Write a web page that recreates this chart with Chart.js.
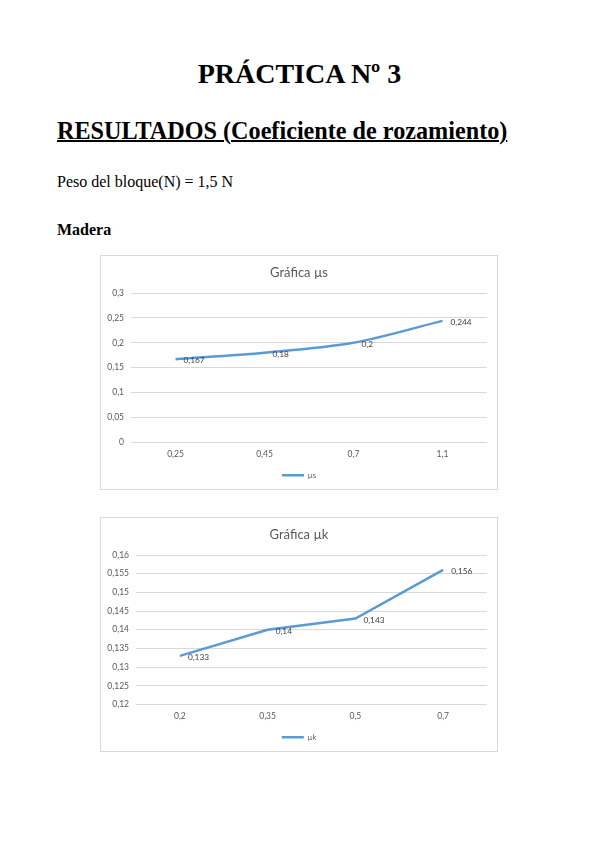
<!DOCTYPE html>
<html>
<head>
<meta charset="utf-8">
<script src="https://cdn.jsdelivr.net/npm/chart.js@4.4.0/dist/chart.umd.min.js"></script>
<style>
  html, body { margin:0; padding:0; background:#fff; }
  body { width:599px; height:848px; position:relative; overflow:hidden; font-family:"Liberation Serif", "Times New Roman", serif; color:#000; }
  .t { position:absolute; white-space:nowrap; line-height:1; }
  #h1 { top:60px; left:0; width:599px; text-align:center; font-size:28px; font-weight:bold; }
  #h2 { top:119px; left:57px; font-size:24.2px; font-weight:bold; text-decoration:underline; text-decoration-thickness:2px; }
  #p1 { top:174px; left:57px; font-size:16px; }
  #p2 { top:222px; left:57px; font-size:16px; font-weight:bold; }
  .box { position:absolute; left:100px; width:398px; height:235px; box-sizing:border-box; border:1px solid #d9d9d9; background:#fff; }
  .box canvas { display:block; }
</style>
</head>
<body>
<div class="t" id="h1">PRÁCTICA Nº 3</div>
<div class="t" id="h2">RESULTADOS (Coeficiente de rozamiento)</div>
<div class="t" id="p1">Peso del bloque(N) = 1,5 N</div>
<div class="t" id="p2">Madera</div>
<div class="box" style="top:255px"><canvas id="c1" width="396" height="233"></canvas></div>
<div class="box" style="top:517px"><canvas id="c2" width="396" height="233"></canvas></div>
<script>
// ---- data ----
const chart1Title = "Gráfica µs";
const chart1Series = "µs";
const chart1Categories = ["0,25", "0,45", "0,7", "1,1"];
const chart1Values = [0.167, 0.18, 0.2, 0.244];
const chart1YMin = 0, chart1YMax = 0.3, chart1YStep = 0.05;

const chart2Title = "Gráfica µk";
const chart2Series = "µk";
const chart2Categories = ["0,2", "0,35", "0,5", "0,7"];
const chart2Values = [0.133, 0.14, 0.143, 0.156];
const chart2YMin = 0.12, chart2YMax = 0.16, chart2YStep = 0.005;

// ---- helpers ----
const FONT = "Lato, 'Liberation Sans', sans-serif";
const fmt = v => String(Number(v.toFixed(4))).replace('.', ',');

const dataLabelPlugin = {
  id: 'dataLabels',
  afterDatasetsDraw(chart) {
    const ctx = chart.ctx;
    ctx.save();
    ctx.font = "8.3px " + FONT;
    ctx.fillStyle = "#404040";
    ctx.textAlign = "left";
    ctx.textBaseline = "middle";
    chart.data.datasets.forEach((ds, di) => {
      const meta = chart.getDatasetMeta(di);
      meta.data.forEach((pt, i) => {
        ctx.fillText(fmt(ds.data[i]), pt.x + 8, pt.y + 1.5);
      });
    });
    ctx.restore();
  }
};

function makeChart(id, title, series, cats, vals, ymin, ymax, step, yWidth, tension) {
  return new Chart(document.getElementById(id), {
    type: 'line',
    data: {
      labels: cats,
      datasets: [{
        label: series,
        data: vals,
        borderColor: '#5B9BD5',
        backgroundColor: '#5B9BD5',
        borderWidth: 2.5,
        pointRadius: 0,
        pointHoverRadius: 0,
        tension: tension,
        fill: false,
        yAxisID: 'y'
      }]
    },
    options: {
      responsive: false,
      animation: false,
      devicePixelRatio: 1,
      layout: { padding: { left: 0, right: 0, top: 0, bottom: 0 } },
      plugins: {
        title: {
          display: true,
          text: title,
          color: '#595959',
          font: { family: FONT, size: 13, weight: 'normal' },
          padding: { top: 9.2, bottom: 12.2 }
        },
        legend: {
          display: true,
          position: 'bottom',
          labels: {
            usePointStyle: true,
            pointStyle: 'line',
            pointStyleWidth: 22,
            color: '#595959',
            font: { family: FONT, size: 7.5 },
            padding: 9
          }
        },
        tooltip: { enabled: false }
      },
      scales: {
        x: {
          offset: true,
          grid: { display: false, drawTicks: false },
          border: { display: false },
          ticks: { color: '#595959', font: { family: FONT, size: 8.5 }, padding: 7, maxRotation: 0 },
          afterFit(s) { s.height = 20; }
        },
        y: {
          position: 'left',
          min: ymin, max: ymax,
          grid: { color: '#d9d9d9', lineWidth: 1, drawTicks: false },
          border: { display: false },
          ticks: {
            stepSize: step,
            color: '#595959',
            font: { family: FONT, size: 8.5 },
            padding: 7,
            callback: v => fmt(v)
          },
          afterFit(s) { s.width = yWidth; }
        },
        yRight: {
          position: 'right',
          display: true,
          grid: { display: false, drawTicks: false },
          border: { display: false },
          ticks: { display: false },
          afterFit(s) { s.width = 10; }
        }
      }
    },
    plugins: [dataLabelPlugin]
  });
}

makeChart('c1', chart1Title, chart1Series, chart1Categories, chart1Values, chart1YMin, chart1YMax, chart1YStep, 30, 0.3);
makeChart('c2', chart2Title, chart2Series, chart2Categories, chart2Values, chart2YMin, chart2YMax, chart2YStep, 35, 0);
</script>
</body>
</html>
